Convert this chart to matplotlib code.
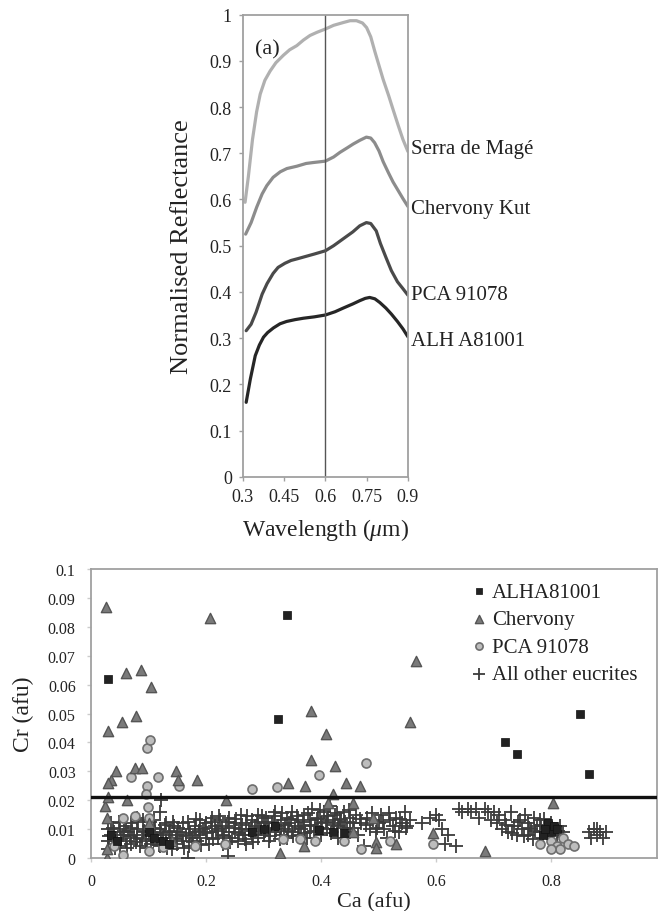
import matplotlib
matplotlib.use("Agg")
import matplotlib.pyplot as plt
from matplotlib.ticker import FixedLocator, FixedFormatter

plt.rcParams['font.family'] = ['Liberation Serif', 'DejaVu Serif']
plt.rcParams['mathtext.fontset'] = 'custom'
plt.rcParams['mathtext.it'] = 'Liberation Serif:italic'
plt.rcParams['mathtext.rm'] = 'Liberation Serif'

# ---------------- spectra (panel a) ----------------
serra_wl = [0.308, 0.32, 0.335, 0.35, 0.363, 0.38, 0.399, 0.42, 0.447, 0.47, 0.496, 0.52,
            0.544, 0.57, 0.6, 0.63, 0.665, 0.69, 0.713, 0.735, 0.75, 0.765, 0.78, 0.795, 0.81,
            0.83, 0.846, 0.865, 0.882, 0.9]
serra_r = [0.594, 0.65, 0.73, 0.79, 0.828, 0.858, 0.878, 0.896, 0.912, 0.924, 0.933, 0.945,
           0.955, 0.962, 0.969, 0.977, 0.983, 0.987, 0.987, 0.982, 0.972, 0.952, 0.92, 0.89,
           0.86, 0.825, 0.795, 0.76, 0.73, 0.704]

chervony_wl = [0.31, 0.33, 0.35, 0.37, 0.387, 0.41, 0.436, 0.46, 0.496, 0.53, 0.556, 0.6,
               0.63, 0.653, 0.68, 0.701, 0.725, 0.749, 0.765, 0.779, 0.795, 0.81, 0.83,
               0.846, 0.865, 0.882, 0.9]
chervony_r = [0.525, 0.55, 0.583, 0.612, 0.63, 0.648, 0.66, 0.667, 0.672, 0.678, 0.68, 0.683,
              0.692, 0.702, 0.712, 0.72, 0.728, 0.735, 0.733, 0.723, 0.705, 0.682, 0.657,
              0.638, 0.619, 0.602, 0.585]

pca_wl = [0.312, 0.33, 0.348, 0.37, 0.388, 0.41, 0.428, 0.453, 0.475, 0.5, 0.53, 0.56, 0.6,
          0.63, 0.665, 0.7, 0.725, 0.749, 0.765, 0.785, 0.8, 0.82, 0.84, 0.862, 0.882, 0.9]
pca_r = [0.316, 0.33, 0.356, 0.395, 0.418, 0.44, 0.453, 0.462, 0.468, 0.472, 0.477, 0.482,
         0.489, 0.5, 0.515, 0.53, 0.543, 0.55, 0.548, 0.532, 0.505, 0.475, 0.446, 0.422, 0.407, 0.393]

alh_wl = [0.312, 0.327, 0.345, 0.36, 0.375, 0.39, 0.411, 0.435, 0.459, 0.49, 0.52, 0.56,
          0.6, 0.635, 0.665, 0.7, 0.725, 0.745, 0.761, 0.78, 0.798, 0.82, 0.84, 0.862, 0.882, 0.9]
alh_r = [0.161, 0.211, 0.262, 0.285, 0.302, 0.312, 0.322, 0.331, 0.336, 0.34, 0.343, 0.346,
         0.35, 0.357, 0.365, 0.374, 0.381, 0.386, 0.388, 0.385, 0.377, 0.365, 0.352, 0.336, 0.32, 0.303]

spectra_names = ["Serra de Magé", "Chervony Kut", "PCA 91078", "ALH A81001"]
spectra_label_y = [0.71, 0.58, 0.395, 0.295]

wl_ticks = [0.3, 0.45, 0.6, 0.75, 0.9]
wl_tick_labels = ["0.3", "0.45", "0.6", "0.75", "0.9"]
refl_ticks = [0, 0.1, 0.2, 0.3, 0.4, 0.5, 0.6, 0.7, 0.8, 0.9, 1.0]
refl_tick_labels = ["0", "0.1", "0.2", "0.3", "0.4", "0.5", "0.6", "0.7", "0.8", "0.9", "1"]

# ---------------- Cr vs Ca (panel b) ----------------
alh_ca = [0.03, 0.34, 0.325, 0.72, 0.74, 0.85, 0.865,
          0.035, 0.045, 0.10, 0.11, 0.125, 0.135, 0.28, 0.30, 0.32, 0.397, 0.42, 0.44,
          0.785, 0.795, 0.80, 0.805, 0.81, 0.79]
alh_cr = [0.062, 0.084, 0.048, 0.040, 0.036, 0.050, 0.029,
          0.008, 0.006, 0.009, 0.007, 0.006, 0.005, 0.009, 0.010, 0.011, 0.0098, 0.009, 0.0085,
          0.008, 0.012, 0.009, 0.011, 0.010, 0.010]

chv_ca = [0.026, 0.206, 0.03, 0.053, 0.06, 0.079, 0.087, 0.104, 0.044, 0.034, 0.03, 0.076,
          0.089, 0.148, 0.151, 0.185, 0.235, 0.063, 0.025, 0.03, 0.382, 0.382, 0.343, 0.372,
          0.408, 0.565, 0.555, 0.424, 0.443, 0.468, 0.421, 0.804, 0.685, 0.595, 0.496, 0.53,
          0.496, 0.328, 0.37, 0.412, 0.456, 0.49, 0.456, 0.028, 0.028, 0.028, 0.10, 0.14]
chv_cr = [0.087, 0.083, 0.044, 0.047, 0.064, 0.049, 0.065, 0.059, 0.030, 0.027, 0.026, 0.031,
          0.031, 0.030, 0.027, 0.027, 0.020, 0.020, 0.018, 0.021, 0.051, 0.034, 0.026, 0.025,
          0.043, 0.068, 0.047, 0.032, 0.026, 0.025, 0.022, 0.019, 0.0025, 0.0085, 0.0055, 0.005,
          0.0035, 0.0018, 0.004, 0.019, 0.019, 0.014, 0.009, 0.0, 0.003, 0.014, 0.012, 0.006]

pca_ca = [0.097, 0.103, 0.069, 0.116, 0.098, 0.153, 0.279, 0.324, 0.397, 0.095, 0.099, 0.1,
          0.056, 0.076, 0.478, 0.04, 0.056, 0.1, 0.125, 0.18, 0.233, 0.334, 0.363, 0.39,
          0.44, 0.47, 0.52, 0.595, 0.78, 0.79, 0.80, 0.81, 0.82, 0.83, 0.84, 0.815, 0.80]
pca_cr = [0.038, 0.041, 0.028, 0.028, 0.025, 0.025, 0.024, 0.0247, 0.0288, 0.022, 0.0177,
          0.0138, 0.014, 0.0146, 0.033, 0.004, 0.0012, 0.0025, 0.0038, 0.004, 0.005, 0.0066,
          0.0066, 0.006, 0.006, 0.003, 0.006, 0.005, 0.005, 0.009, 0.006, 0.004, 0.007,
          0.005, 0.004, 0.003, 0.003]

other_ca = [
    0.03, 0.03, 0.03, 0.035, 0.035, 0.04, 0.04, 0.045, 0.05, 0.05, 0.055, 0.06, 0.06, 0.065,
    0.07, 0.07, 0.075, 0.08, 0.08, 0.085, 0.09, 0.09, 0.095, 0.1, 0.1, 0.105, 0.11, 0.11,
    0.115, 0.12, 0.12, 0.125, 0.13, 0.13, 0.135, 0.14, 0.14, 0.145, 0.15, 0.15, 0.122, 0.12,
    0.08, 0.169, 0.238,
    0.155, 0.16, 0.16, 0.165, 0.17, 0.17, 0.175, 0.18, 0.18, 0.185, 0.19, 0.19, 0.195, 0.2,
    0.2, 0.205, 0.21, 0.21, 0.215, 0.22, 0.22, 0.225, 0.23, 0.23, 0.235, 0.24, 0.24, 0.245,
    0.25, 0.25, 0.255, 0.26, 0.26, 0.265, 0.27, 0.27, 0.275, 0.28, 0.28, 0.285, 0.29, 0.29,
    0.295, 0.3, 0.3,
    0.305, 0.31, 0.31, 0.315, 0.32, 0.32, 0.325, 0.33, 0.33, 0.335, 0.34, 0.34, 0.345, 0.35,
    0.35, 0.355, 0.36, 0.36, 0.365, 0.37, 0.37, 0.375, 0.38, 0.38, 0.385, 0.39, 0.395, 0.4,
    0.4, 0.405, 0.41, 0.41, 0.415, 0.42, 0.425, 0.43, 0.43, 0.435, 0.44, 0.445, 0.45, 0.45,
    0.455, 0.46, 0.465, 0.47, 0.475, 0.48, 0.485, 0.49, 0.495, 0.5, 0.505, 0.51, 0.515, 0.52,
    0.525, 0.53, 0.535, 0.54, 0.545, 0.55, 0.555, 0.575, 0.59,
    0.6, 0.605, 0.61, 0.62, 0.615, 0.635, 0.64, 0.645, 0.655, 0.66, 0.67, 0.675, 0.685, 0.69,
    0.695, 0.7, 0.705, 0.71, 0.715,
    0.72, 0.725, 0.73, 0.735, 0.74, 0.745, 0.75, 0.755, 0.76, 0.76, 0.765, 0.77, 0.775, 0.78,
    0.78, 0.785, 0.79, 0.795, 0.8, 0.805, 0.81, 0.815, 0.82,
    0.865, 0.87, 0.875, 0.88, 0.885, 0.89, 0.895, 0.88,
    0.032, 0.038, 0.042, 0.048, 0.052, 0.058, 0.062, 0.068, 0.072, 0.078, 0.082, 0.088, 0.092,
    0.098, 0.102, 0.108, 0.112, 0.118, 0.122, 0.128, 0.132, 0.138, 0.142, 0.148, 0.152, 0.158,
    0.162, 0.168, 0.172, 0.178, 0.182, 0.188, 0.192, 0.198, 0.202, 0.208, 0.212, 0.218, 0.222,
    0.228, 0.232, 0.238, 0.242, 0.248, 0.252, 0.258, 0.262, 0.268, 0.272, 0.278, 0.282, 0.288,
    0.292, 0.298, 0.302, 0.308, 0.312, 0.318, 0.322, 0.328, 0.332, 0.338, 0.342, 0.348, 0.352,
    0.358, 0.362, 0.368, 0.372, 0.378, 0.382, 0.388, 0.392, 0.398, 0.402, 0.408, 0.412, 0.418,
    0.422, 0.428, 0.432, 0.438, 0.442, 0.448, 0.458, 0.468, 0.478, 0.488, 0.498, 0.508, 0.518,
    0.528, 0.538, 0.548,
    0.722, 0.732, 0.742, 0.752, 0.762, 0.772, 0.782, 0.792, 0.802, 0.812, 0.768, 0.788]
other_cr = [
    0.010, 0.006, 0.003, 0.008, 0.012, 0.005, 0.009, 0.007, 0.010, 0.004, 0.008, 0.006, 0.011,
    0.009, 0.005, 0.012, 0.008, 0.007, 0.010, 0.004, 0.009, 0.013, 0.006, 0.008, 0.011, 0.005,
    0.009, 0.013, 0.007, 0.010, 0.004, 0.008, 0.006, 0.012, 0.009, 0.007, 0.003, 0.011, 0.008,
    0.005, 0.020, 0.016, 0.014, 0.0, 0.0007,
    0.009, 0.006, 0.012, 0.008, 0.010, 0.004, 0.007, 0.011, 0.009, 0.006, 0.013, 0.008, 0.010,
    0.007, 0.012, 0.005, 0.009, 0.014, 0.011, 0.007, 0.010, 0.013, 0.008, 0.005, 0.011, 0.009,
    0.014, 0.007, 0.012, 0.009, 0.006, 0.010, 0.015, 0.008, 0.012, 0.005, 0.010, 0.013, 0.008,
    0.011, 0.007, 0.015, 0.010, 0.012, 0.008,
    0.014, 0.010, 0.006, 0.012, 0.009, 0.016, 0.011, 0.013, 0.008, 0.010, 0.014, 0.007, 0.012,
    0.009, 0.016, 0.011, 0.013, 0.008, 0.010, 0.015, 0.011, 0.007, 0.013, 0.009, 0.017, 0.011,
    0.014, 0.012, 0.008, 0.016, 0.013, 0.010, 0.018, 0.012, 0.015, 0.011, 0.007, 0.013, 0.016,
    0.010, 0.014, 0.009,
    0.012, 0.015, 0.008, 0.012, 0.004, 0.014, 0.010, 0.013, 0.009, 0.012, 0.015, 0.010, 0.007,
    0.013, 0.011, 0.014, 0.009, 0.012, 0.016, 0.011, 0.013, 0.012, 0.014,
    0.015, 0.013, 0.010, 0.008, 0.005, 0.004, 0.017, 0.016, 0.017, 0.016, 0.017, 0.014, 0.017,
    0.016, 0.013, 0.016, 0.012, 0.015, 0.010,
    0.013, 0.009, 0.016, 0.011, 0.008, 0.013, 0.010, 0.015, 0.012, 0.008, 0.010, 0.014, 0.011,
    0.009, 0.013, 0.007, 0.011, 0.009, 0.012, 0.010, 0.008, 0.011, 0.009,
    0.009, 0.007, 0.010, 0.008, 0.009, 0.007, 0.009, 0.010,
    0.0075, 0.0105, 0.0035, 0.0125, 0.0065, 0.0095, 0.0035, 0.0075, 0.0105, 0.0055, 0.0125,
    0.0065, 0.0095, 0.0035, 0.0125, 0.0065, 0.0105, 0.0045, 0.0085, 0.0115, 0.0035, 0.0095,
    0.0125, 0.0065, 0.0105, 0.0075, 0.0035, 0.0125, 0.0085, 0.0055, 0.0135, 0.0095, 0.0045,
    0.0105, 0.0085, 0.0125, 0.0065, 0.0095, 0.0145, 0.0105, 0.0075, 0.0125, 0.0055, 0.0105,
    0.0135, 0.0085, 0.0115, 0.0065, 0.0145, 0.0095, 0.0055, 0.0125, 0.0105, 0.0145, 0.0095,
    0.0125, 0.0075, 0.0145, 0.0105, 0.0065, 0.0155, 0.0115, 0.0095, 0.0135, 0.0075, 0.0145,
    0.0105, 0.0125, 0.0085, 0.0155, 0.0115, 0.0095, 0.0135, 0.0165, 0.0105, 0.0125, 0.0145,
    0.0085, 0.0115, 0.0155, 0.0135, 0.0105, 0.0125, 0.0165, 0.0105, 0.0135, 0.0115, 0.0155,
    0.0105, 0.0125, 0.0155, 0.0095, 0.0135, 0.0105,
    0.0115, 0.0085, 0.0125, 0.0075, 0.0105, 0.0095, 0.0115, 0.0085, 0.0105, 0.0095, 0.0065,
    0.0135]

cr_limit = 0.021

ca_ticks = [0, 0.2, 0.4, 0.6, 0.8]
ca_tick_labels = ["0", "0.2", "0.4", "0.6", "0.8"]
cr_ticks = [0, 0.01, 0.02, 0.03, 0.04, 0.05, 0.06, 0.07, 0.08, 0.09, 0.1]
cr_tick_labels = ["0", "0.01", "0.02", "0.03", "0.04", "0.05", "0.06", "0.07", "0.08", "0.09", "0.1"]

# ---------------- figure ----------------
fig = plt.figure(figsize=(6.6, 9.12), dpi=100)
frame_col = "#a0a0a0"
text_col = "#222222"

ax1 = fig.add_axes([0.368, 0.4762, 0.25, 0.5066])
curve_cols = ["#b0b0b0", "#8c8c8c", "#4a4a4a", "#262626"]
curves = [(serra_wl, serra_r), (chervony_wl, chervony_r), (pca_wl, pca_r), (alh_wl, alh_r)]
for (wl, r), c in zip(curves, curve_cols):
    ax1.plot(wl, r, color=c, lw=2.3, solid_capstyle="round", solid_joinstyle="round")
ax1.axvline(0.6, color="#555555", lw=1.0)
ax1.set_xlim(0.3, 0.9)
ax1.set_ylim(0, 1)
ax1.xaxis.set_major_locator(FixedLocator(wl_ticks))
ax1.xaxis.set_major_formatter(FixedFormatter(wl_tick_labels))
ax1.yaxis.set_major_locator(FixedLocator(refl_ticks))
ax1.yaxis.set_major_formatter(FixedFormatter(refl_tick_labels))
for s in ax1.spines.values():
    s.set_color(frame_col)
    s.set_linewidth(1.3)
ax1.tick_params(length=3, width=1, color=frame_col, labelsize=13, labelcolor=text_col, pad=5)
ax1.set_ylabel("Normalised Reflectance", fontsize=19, color=text_col, labelpad=12)
ax1.set_xlabel("Wavelength ($\\mathit{\\mu}$m)", fontsize=17, color=text_col, labelpad=8)
ax1.text(0.345, 0.925, "(a)", fontsize=16, color=text_col, va="center", ha="left")
for name, yv in zip(spectra_names, spectra_label_y):
    ax1.text(0.913, yv, name, fontsize=15, color=text_col, va="center", ha="left",
             clip_on=False)

ax2 = fig.add_axes([0.1379, 0.0581, 0.8576, 0.3169])
ax2.scatter(other_ca, other_cr, marker="+", s=115, c="#3c3c3c", linewidths=1.3,
            label="All other eucrites", zorder=3)
ax2.scatter(pca_ca, pca_cr, marker="o", s=42, c="#bdbdbd", edgecolors="#6e6e6e",
            linewidths=1.2, label="PCA 91078", zorder=4)
ax2.scatter(chv_ca, chv_cr, marker="^", s=55, c="#7a7a7a", edgecolors="#555555",
            linewidths=1.0, label="Chervony", zorder=5)
ax2.scatter(alh_ca, alh_cr, marker="s", s=28, c="#222222", edgecolors="#111111",
            linewidths=0.5, label="ALHA81001", zorder=6)
ax2.axhline(cr_limit, color="#111111", lw=2.4, zorder=7)
ax2.set_xlim(0, 0.984)
ax2.set_ylim(0, 0.1)
ax2.xaxis.set_major_locator(FixedLocator(ca_ticks))
ax2.xaxis.set_major_formatter(FixedFormatter(ca_tick_labels))
ax2.yaxis.set_major_locator(FixedLocator(cr_ticks))
ax2.yaxis.set_major_formatter(FixedFormatter(cr_tick_labels))
for s in ax2.spines.values():
    s.set_color(frame_col)
    s.set_linewidth(1.3)
ax2.tick_params(length=3, width=1, color="#cccccc", labelsize=11.5, labelcolor=text_col, pad=8)
ax2.set_xlabel("Ca (afu)", fontsize=16, color=text_col, labelpad=2)
ax2.set_ylabel("Cr (afu)", fontsize=17, color=text_col, labelpad=10)

handles, labels = ax2.get_legend_handles_labels()
order = [3, 2, 1, 0]
leg = ax2.legend([handles[i] for i in order], [labels[i] for i in order],
                 loc="upper left", bbox_to_anchor=(0.67, 0.955), frameon=False,
                 fontsize=15, handlelength=0.8, handletextpad=0.25, labelspacing=0.38,
                 borderaxespad=0, borderpad=0, markerscale=0.8)
for t in leg.get_texts():
    t.set_color(text_col)

fig.savefig("out.png", dpi=100)
